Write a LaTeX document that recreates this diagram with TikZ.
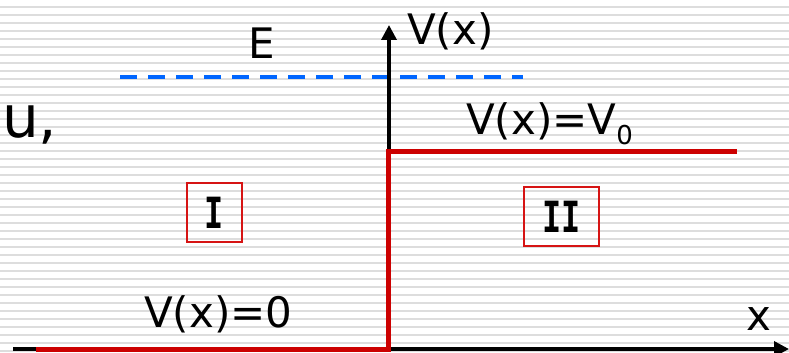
\documentclass[tikz,border=0pt]{standalone}
\usepackage{fontspec}
\setmainfont{DejaVu Sans}
\newfontfamily\romfont{DejaVu Sans Mono}
\usetikzlibrary{arrows.meta}
\definecolor{stripegrey}{RGB}{221,221,221}
\definecolor{potred}{RGB}{204,0,0}
\definecolor{boxred}{RGB}{214,20,20}
\definecolor{eblue}{RGB}{0,102,255}
\newcommand{\romI}{\scalebox{0.74}[1]{I}}
\tikzset{
  stripe/.style={stripegrey, line width=2pt},
  axisline/.style={black, line width=3.5pt, -{Triangle[width=15pt,length=15pt]}},
  potline/.style={potred, line width=5pt},
  energy/.style={eblue, line width=4pt, dash pattern=on 17pt off 11pt},
  lbl/.style={inner sep=0pt, anchor=base west, font=\fontsize{42}{42}\selectfont},
  regionbox/.style={draw=boxred, line width=1.5pt, inner sep=0pt, font=\romfont\bfseries\fontsize{43}{43}\selectfont}
}
\begin{document}
\begin{tikzpicture}[x=1pt,y=-1pt]
\useasboundingbox (0,0) rectangle (789,353);
\fill[white] (0,0) rectangle (789,353);
\foreach \k in {0,...,43} {
  \draw[stripe] (0,6.67+8*\k) -- (789,6.67+8*\k);
}
% coordinates
\coordinate (xstart) at (13,349);
\coordinate (xend) at (789,349);
\coordinate (ystart) at (389,351);
\coordinate (yend) at (389,25);
\coordinate (p0) at (36,349);
\coordinate (p1) at (388.5,349);
\coordinate (p2) at (388.5,151);
\coordinate (p3) at (737,151);
\coordinate (e0) at (120,77);
\coordinate (e1) at (523,77);
% energy level
\draw[energy] (e0) -- (e1);
% axes
\draw[axisline] (xstart) -- (xend);
\draw[axisline] (ystart) -- (yend);
% potential
\draw[potline, line join=miter] (p0) -- (p1) -- (p2) -- (p3);
% labels
\node[lbl] (Elab) at (248,59) {E};
\node[lbl] (Vlab) at (407,45) {V(x)};
\node[lbl, font=\fontsize{58}{58}\selectfont] (ulab) at (2,137) {u,};
\node[lbl] (V0lab) at (466,134) {V(x)=V\raisebox{-10pt}{\fontsize{26}{26}\selectfont 0}};
\node[lbl] (Vzero) at (144,327) {V(x)=0};
\node[lbl] (xlab) at (746,330) {x};
\node[regionbox, minimum width=55pt, minimum height=59pt] (r1) at (214.5,212.5) {\romI};
\node[regionbox, minimum width=75pt, minimum height=59pt] (r2) at (561.5,216.5) {\romI\romI};
\end{tikzpicture}
\end{document}
